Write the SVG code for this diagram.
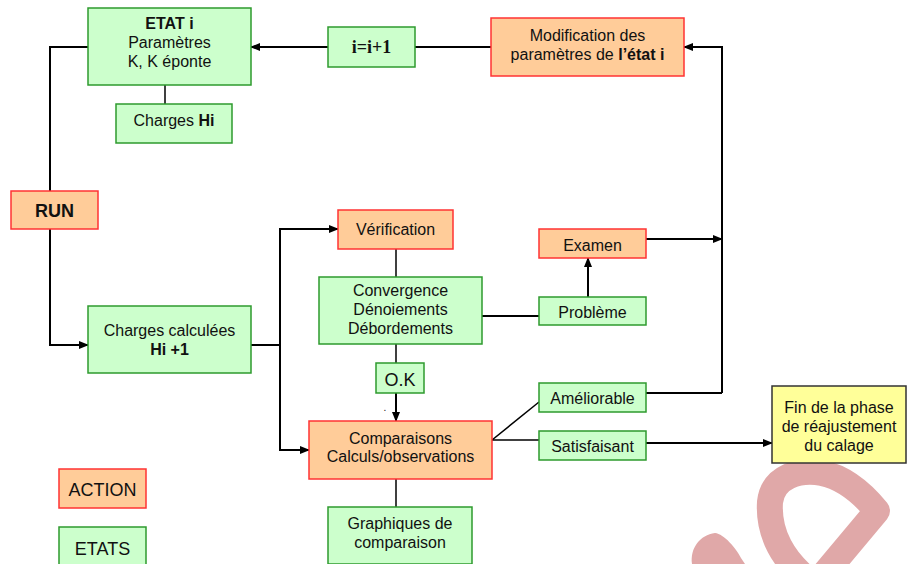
<svg xmlns="http://www.w3.org/2000/svg" width="908" height="564" viewBox="0 0 908 564">
<defs>
<marker id="ah" markerWidth="10" markerHeight="10" refX="9" refY="5" orient="auto" markerUnits="userSpaceOnUse">
<path d="M0,1 L10,5 L0,9 Z" fill="#000"/>
</marker>
<style>
.g{fill:#ccffcc;stroke:#2e9a2e;stroke-width:1.5}
.o{fill:#ffcc99;stroke:#ff3333;stroke-width:1.5}
.y{fill:#ffff99;stroke:#333333;stroke-width:1.5}
text{font-family:"Liberation Sans",Arial,sans-serif;font-size:16px;fill:#111;text-anchor:middle}
.b{font-weight:bold}
.big{font-size:18px}
.c{fill:none;stroke:#000;stroke-width:2}
.t{fill:none;stroke:#000;stroke-width:1.5}
</style>
</defs>
<rect width="908" height="564" fill="#fff"/>
<g id="watermark" fill="none" stroke="#e0a8a8">
<path d="M877,511 L815,585 C782,562 768,532 770,502 C773,476 800,469 822,473 C846,478 864,495 877,511 Z" stroke-width="26" stroke-linejoin="round"/>
<path d="M692,564 C690,548 700,535 715,533 C724,534 736,548 741,558 L745,564 Z" fill="#e0a8a8" stroke="none"/>
</g>
<g id="connectors">
<path class="c" d="M328,47 L251,47" marker-end="url(#ah)"/>
<path class="c" d="M491,47 L415,47"/>
<path class="c" d="M722,393 L722,47 L684,47" marker-end="url(#ah)"/>
<path class="t" d="M165,85 L165,104"/>
<path class="c" d="M88,47 L50,47 L50,191"/>
<path class="c" d="M50,229 L50,345 L88,345" marker-end="url(#ah)"/>
<path class="c" d="M251,345 L280,345"/>
<path class="c" d="M280,450 L280,229 L338,229" marker-end="url(#ah)"/>
<path class="c" d="M280,345 L280,450 L309,450" marker-end="url(#ah)"/>
<path class="t" d="M396,249 L396,277"/>
<path class="c" d="M482,316 L539,316"/>
<path class="c" d="M588,297 L588,258" marker-end="url(#ah)"/>
<path class="c" d="M646,239 L722,239" marker-end="url(#ah)"/>
<path class="t" d="M396,344 L396,363"/>
<path class="c" d="M396,393 L396,421" marker-end="url(#ah)"/>
<path class="t" d="M396,479 L396,507"/>
<path class="t" d="M492,440 L539,402"/>
<path class="t" d="M492,440 L539,440"/>
<path class="c" d="M646,393 L722,393"/>
<path class="c" d="M646,443 L772,443" marker-end="url(#ah)"/>
</g>
<g id="etat-i">
<rect class="g" x="88" y="8" width="163" height="77"/>
<text x="169.5" y="29" class="b">ETAT i</text>
<text x="169.5" y="48">Paramètres</text>
<text x="169.5" y="67">K, K éponte</text>
</g>
<g id="charges-hi">
<rect class="g" x="116" y="104" width="116" height="39"/>
<text x="174" y="126">Charges <tspan class="b">Hi</tspan></text>
</g>
<g id="i-plus-1">
<rect class="g" x="328" y="27" width="87" height="40"/>
<text x="371.5" y="53" class="b big" style="font-family:'Liberation Serif','Times New Roman',serif">i=i+1</text>
</g>
<g id="modification">
<rect class="o" x="491" y="18" width="193" height="58"/>
<text x="587.5" y="41">Modification des</text>
<text x="587.5" y="60">paramètres de <tspan class="b">l’état i</tspan></text>
</g>
<g id="run">
<rect class="o" x="11" y="191" width="87" height="38"/>
<text x="54.5" y="217" class="b big">RUN</text>
</g>
<g id="charges-calculees">
<rect class="g" x="88" y="306" width="163" height="67"/>
<text x="169.5" y="336">Charges calculées</text>
<text x="169.5" y="355" class="b">Hi +1</text>
</g>
<g id="verification">
<rect class="o" x="338" y="210" width="115" height="39"/>
<text x="395.5" y="235">Vérification</text>
</g>
<g id="convergence">
<rect class="g" x="319" y="277" width="163" height="67"/>
<text x="400.5" y="296">Convergence</text>
<text x="400.5" y="315">Dénoiements</text>
<text x="400.5" y="334">Débordements</text>
</g>
<g id="examen">
<rect class="o" x="539" y="229" width="107" height="29"/>
<text x="592.5" y="251">Examen</text>
</g>
<g id="probleme">
<rect class="g" x="539" y="297" width="107" height="28"/>
<text x="592.5" y="318">Problème</text>
</g>
<g id="ok">
<rect class="g" x="376" y="363" width="48" height="30"/>
<text x="400" y="386" class="big">O.K</text>
<text x="385" y="411" style="font-size:10px">.</text>
</g>
<g id="comparaisons">
<rect class="o" x="309" y="421" width="183" height="58"/>
<text x="400.5" y="444">Comparaisons</text>
<text x="400.5" y="462">Calculs/observations</text>
</g>
<g id="graphiques">
<rect class="g" x="328" y="507" width="144" height="57"/>
<text x="400" y="529">Graphiques de</text>
<text x="400" y="548">comparaison</text>
</g>
<g id="ameliorable">
<rect class="g" x="539" y="383" width="107" height="29"/>
<text x="592.5" y="404">Améliorable</text>
</g>
<g id="satisfaisant">
<rect class="g" x="539" y="431" width="107" height="29"/>
<text x="592.5" y="452">Satisfaisant</text>
</g>
<g id="fin">
<rect class="y" x="772" y="386" width="134" height="77"/>
<text x="839" y="413">Fin de la phase</text>
<text x="839" y="432">de réajustement</text>
<text x="839" y="451">du calage</text>
</g>
<g id="legend-action">
<rect class="o" x="59" y="469" width="87" height="39"/>
<text x="102.5" y="496" class="big">ACTION</text>
</g>
<g id="legend-etats">
<rect class="g" x="59" y="527" width="87" height="40"/>
<text x="102.5" y="555" class="big">ETATS</text>
</g>
</svg>
